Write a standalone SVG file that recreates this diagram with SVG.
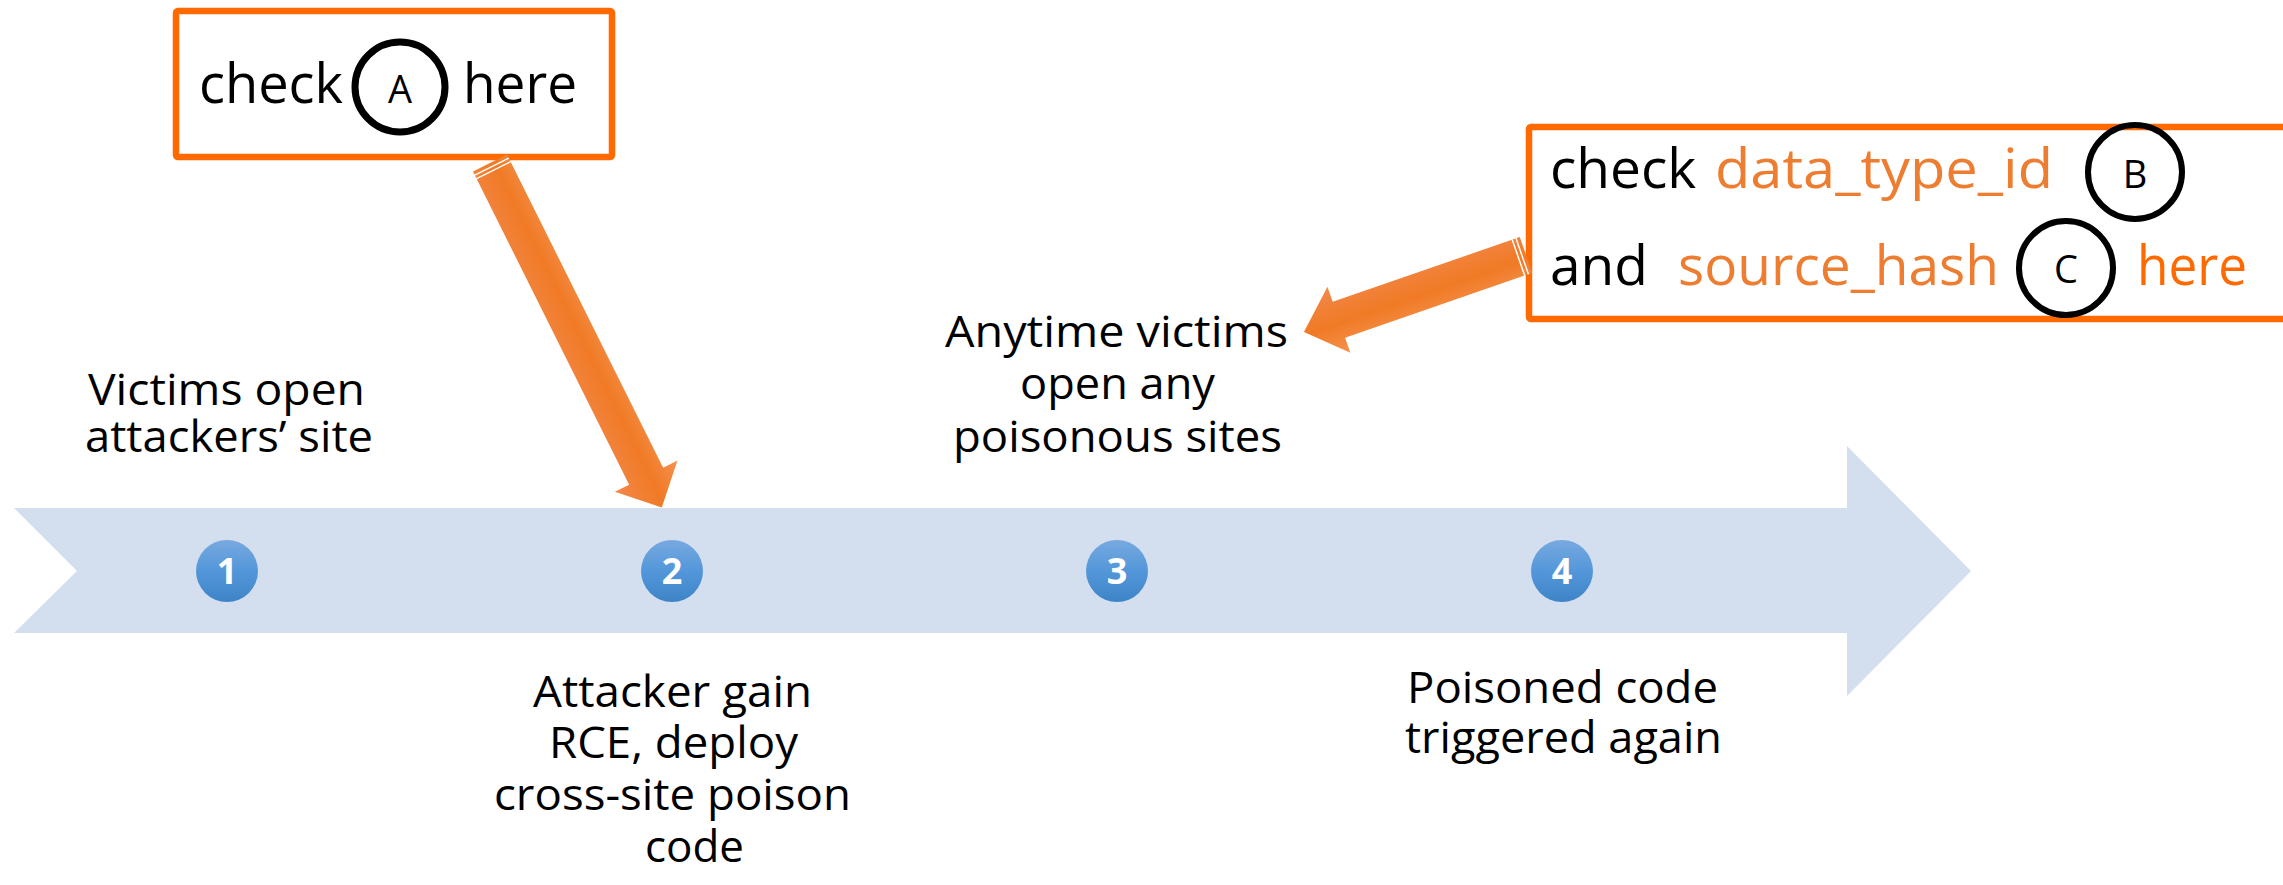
<svg xmlns="http://www.w3.org/2000/svg" width="2283" height="885" viewBox="0 0 2283 885">
  <defs>
    <linearGradient id="badgeFill" x1="0" y1="0" x2="0" y2="1">
      <stop offset="0" stop-color="#78A9DF"/>
      <stop offset="0.5" stop-color="#5397DA"/>
      <stop offset="1" stop-color="#3D84C6"/>
    </linearGradient>
    <linearGradient id="pointerFill" x1="0" y1="0" x2="0" y2="1">
      <stop offset="0" stop-color="#F5924F"/>
      <stop offset="0.45" stop-color="#F07A25"/>
      <stop offset="1" stop-color="#F3884A"/>
    </linearGradient>
    <!-- block arrow drawn along +x, tail at origin -->
    <path id="pointer1" d="M0,-19 L350,-19 L350,-35 L385,0 L350,35 L350,19 L0,19 Z"/>
    <path id="pointer2" d="M0,-19 L198,-19 L198,-35 L235,0 L198,35 L198,19 L0,19 Z"/>
  </defs>
  <style>
    .label { font-family: "Open Sans", "Noto Sans", sans-serif; font-size: 44px; fill: #000; }
    .box { fill: #fff; stroke: #FF6A00; stroke-width: 6.5; }
    .big { font-family: "Open Sans", "Noto Sans", sans-serif; font-size: 55px; fill: #000; }
    .field { fill: #ED7D31; }
    .hot { fill: #FF6A00; }
    .ring { fill: none; stroke: #000; }
    .letter { font-family: "Open Sans", "Noto Sans", sans-serif; font-size: 38px; fill: #000; text-anchor: middle; }
    .badge { fill: url(#badgeFill); }
    .num { font-family: "Open Sans", "Noto Sans", sans-serif; font-weight: bold; font-size: 36px; fill: #fff; text-anchor: middle; }
    .pointer { fill: url(#pointerFill); }
    .seam { stroke: #fff; stroke-width: 1.5; }
  </style>

  <rect width="2283" height="885" fill="#fff"/>

  <!-- timeline band -->
  <g id="timeline">
    <path d="M14,508 L1847,508 L1847,446 L1971,571 L1847,696 L1847,633 L14,633 L77,571 Z" fill="#D3DEEF"/>
  </g>

  <g id="step1">
    <circle class="badge" cx="227" cy="571" r="31"/>
    <text class="num" x="227" y="584">1</text>
    <text class="label" x="88" y="405" textLength="277" lengthAdjust="spacingAndGlyphs">Victims open</text>
    <text class="label" x="85" y="452" textLength="288" lengthAdjust="spacingAndGlyphs">attackers’ site</text>
  </g>

  <g id="step2">
    <circle class="badge" cx="672" cy="571" r="31"/>
    <text class="num" x="672" y="584">2</text>
    <text class="label" x="533" y="707" textLength="279" lengthAdjust="spacingAndGlyphs">Attacker gain</text>
    <text class="label" x="549" y="758" textLength="249" lengthAdjust="spacingAndGlyphs">RCE, deploy</text>
    <text class="label" x="494" y="810" textLength="357" lengthAdjust="spacingAndGlyphs">cross-site poison</text>
    <text class="label" x="645" y="862" textLength="99" lengthAdjust="spacingAndGlyphs">code</text>
  </g>

  <g id="step3">
    <circle class="badge" cx="1117" cy="571" r="31"/>
    <text class="num" x="1117" y="584">3</text>
    <text class="label" x="945" y="347" textLength="343" lengthAdjust="spacingAndGlyphs">Anytime victims</text>
    <text class="label" x="1020" y="399" textLength="195" lengthAdjust="spacingAndGlyphs">open any</text>
    <text class="label" x="953" y="452" textLength="329" lengthAdjust="spacingAndGlyphs">poisonous sites</text>
  </g>

  <g id="step4">
    <circle class="badge" cx="1562" cy="571" r="31"/>
    <text class="num" x="1562" y="584">4</text>
    <text class="label" x="1407" y="703" textLength="311" lengthAdjust="spacingAndGlyphs">Poisoned code</text>
    <text class="label" x="1405" y="753" textLength="317" lengthAdjust="spacingAndGlyphs">triggered again</text>
  </g>

  <!-- callout A -->
  <g id="checkA">
    <rect class="box" x="176" y="11" width="436" height="146" rx="2"/>
    <text class="big" x="199" y="103" font-size="54" textLength="144" lengthAdjust="spacingAndGlyphs">check</text>
    <text class="big" x="463" y="103" font-size="54" textLength="114" lengthAdjust="spacingAndGlyphs">here</text>
    <circle class="ring" cx="400" cy="87" r="45" stroke-width="7"/>
    <text class="letter" x="400" y="103">A</text>
  </g>

  <!-- callout B / C -->
  <g id="checkBC">
    <rect class="box" x="1529" y="127" width="800" height="192" rx="2"/>
    <text class="big" x="1550" y="188">check</text>
    <text class="big field" x="1715" y="188" textLength="338" lengthAdjust="spacingAndGlyphs">data_type_id</text>
    <circle class="ring" cx="2135" cy="172" r="47" stroke-width="6"/>
    <text class="letter" x="2135" y="188">B</text>
    <text class="big" x="1550" y="285">and</text>
    <text class="big field" x="1678" y="285" textLength="321" lengthAdjust="spacingAndGlyphs">source_hash</text>
    <circle class="ring" cx="2066" cy="268" r="47" stroke-width="6"/>
    <text class="letter" x="2066" y="283">C</text>
    <text class="big hot" x="2137" y="285" textLength="110" lengthAdjust="spacingAndGlyphs">here</text>
  </g>

  <!-- pointers from callouts to the timeline -->
  <g id="connectors">
    <g transform="translate(490,163) rotate(63.5)">
      <use href="#pointer1" class="pointer"/>
      <line class="seam" x1="4" y1="-19" x2="4" y2="19"/>
      <line class="seam" x1="8" y1="-19" x2="8" y2="19"/>
    </g>
    <g transform="translate(1526,255) rotate(160.9)">
      <use href="#pointer2" class="pointer"/>
      <line class="seam" x1="4" y1="-19" x2="4" y2="19"/>
      <line class="seam" x1="8" y1="-19" x2="8" y2="19"/>
    </g>
  </g>
</svg>
